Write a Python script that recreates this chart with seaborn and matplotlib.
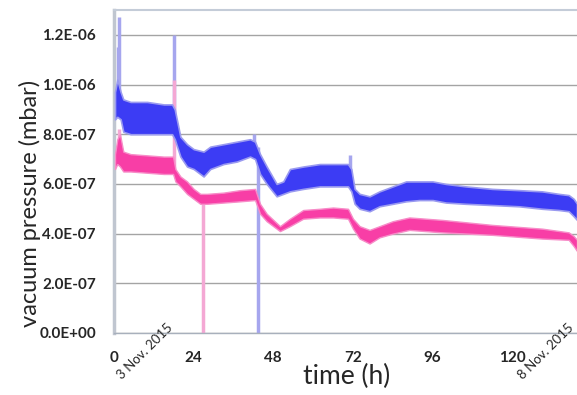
import numpy as np
import pandas as pd
import seaborn as sns
import matplotlib.pyplot as plt
from matplotlib.ticker import FuncFormatter, MultipleLocator

# band envelopes (pressure in 1e-6 mbar, time in h)
blue_t = [0.3, 1.0, 2.0, 2.8, 5, 10, 15, 17.5, 18.3, 20, 22, 24, 27, 29, 33, 37, 41, 42.5,
          44, 46, 49, 51, 53, 57, 62, 66, 70.5, 71.5, 72.5, 74, 77, 80, 84, 88, 92, 96,
          100, 106, 114, 122, 129, 134, 137, 138.5, 139.5]
blue_lo = [0.86, 0.87, 0.86, 0.81, 0.80, 0.80, 0.80, 0.80, 0.78, 0.71, 0.67, 0.66, 0.63, 0.66,
           0.68, 0.69, 0.71, 0.70, 0.64, 0.60, 0.55, 0.56, 0.57, 0.58, 0.59, 0.59, 0.59, 0.57,
           0.52, 0.50, 0.49, 0.51, 0.52, 0.53, 0.535, 0.535, 0.525, 0.52, 0.515, 0.51, 0.50,
           0.495, 0.49, 0.47, 0.455]
blue_hi = [0.97, 1.02, 0.97, 0.94, 0.93, 0.93, 0.92, 0.92, 0.90, 0.79, 0.76, 0.74, 0.73, 0.75,
           0.76, 0.77, 0.78, 0.77, 0.72, 0.67, 0.60, 0.61, 0.66, 0.67, 0.68, 0.68, 0.68, 0.66,
           0.58, 0.56, 0.55, 0.57, 0.59, 0.61, 0.61, 0.61, 0.60, 0.59, 0.58, 0.575, 0.57,
           0.56, 0.555, 0.54, 0.52]

pink_t = [0.3, 1.0, 1.8, 2.8, 5, 10, 15, 17.8, 18.5, 20, 22, 24, 26, 28, 33, 38, 42.5, 44, 46,
          50, 53, 57, 62, 66, 70.5, 72, 74, 77, 80, 84, 89, 99, 114, 129, 137, 138.5, 139.5]
pink_lo = [0.66, 0.68, 0.67, 0.65, 0.65, 0.645, 0.64, 0.64, 0.61, 0.59, 0.56, 0.54, 0.52, 0.52,
           0.525, 0.53, 0.535, 0.48, 0.45, 0.41, 0.43, 0.46, 0.465, 0.465, 0.46, 0.42, 0.38,
           0.36, 0.385, 0.40, 0.415, 0.405, 0.395, 0.38, 0.375, 0.35, 0.33]
pink_hi = [0.72, 0.78, 0.80, 0.73, 0.72, 0.715, 0.71, 0.71, 0.66, 0.63, 0.61, 0.58, 0.56, 0.56,
           0.565, 0.575, 0.58, 0.52, 0.48, 0.43, 0.46, 0.495, 0.50, 0.505, 0.50, 0.46, 0.43,
           0.415, 0.43, 0.45, 0.465, 0.455, 0.435, 0.42, 0.405, 0.39, 0.375]

# spikes: time, low, high
blue_spike_t = [1.2, 1.4, 18.0, 42.3, 43.5, 71.2]
blue_spike_lo = [0.95, 0.90, 0.80, 0.72, 0.0, 0.62]
blue_spike_hi = [1.15, 1.27, 1.20, 0.80, 0.75, 0.715]
pink_spike_t = [1.5, 18.2, 26.8]
pink_spike_lo = [0.72, 0.66, 0.0]
pink_spike_hi = [0.82, 1.02, 0.55]

date_t = [17.0, 138.0]
date_labels = ['3 Nov. 2015', '8 Nov. 2015']

BLUE = '#3c3cf4'
PINK = '#f83ea6'

def to_long(t, lo, hi):
    return pd.DataFrame({'time': list(t) * 2,
                         'p': np.concatenate([lo, hi]) * 1e-6})

sns.set_style('white')
plt.rcParams['font.family'] = ['Lato', 'DejaVu Sans']

fig = plt.figure(figsize=(5.77, 3.95), dpi=100)
ax = fig.add_axes([114 / 577, 62 / 395, 463 / 577, 323 / 395])

ax.vlines(blue_spike_t, np.array(blue_spike_lo) * 1e-6, np.array(blue_spike_hi) * 1e-6,
          color='#a6a6ee', lw=2.5, zorder=2)
ax.vlines(pink_spike_t, np.array(pink_spike_lo) * 1e-6, np.array(pink_spike_hi) * 1e-6,
          color='#f4a8d4', lw=2.5, zorder=2)

sns.lineplot(data=to_long(blue_t, blue_lo, blue_hi), x='time', y='p', errorbar=('pi', 100),
             color=BLUE, lw=0, ax=ax,
             err_kws=dict(alpha=1, facecolor=BLUE, edgecolor='#9a9af0', linewidth=1.2, zorder=3))
sns.lineplot(data=to_long(pink_t, pink_lo, pink_hi), x='time', y='p', errorbar=('pi', 100),
             color=PINK, lw=0, ax=ax,
             err_kws=dict(alpha=1, facecolor=PINK, edgecolor='#f78cc8', linewidth=1.0, zorder=3))

ax.set_xlim(0, 139.5)
ax.set_ylim(0, 1.3e-6)
ax.xaxis.set_major_locator(MultipleLocator(24))
ax.xaxis.set_minor_locator(MultipleLocator(12))
ax.yaxis.set_major_locator(MultipleLocator(2e-7))
ax.yaxis.set_minor_locator(MultipleLocator(1e-7))
ax.yaxis.set_major_formatter(FuncFormatter(lambda v, pos: f'{v:.1E}'))
ax.xaxis.set_major_formatter(FuncFormatter(lambda v, pos: f'{v:.0f}'))
ax.grid(axis='y', which='major', color='#a4a4a4', lw=1, zorder=0)
ax.set_axisbelow(True)
ax.tick_params(which='both', direction='in', color='#b0b4bc', length=5, width=1)
ax.tick_params(axis='both', which='major', labelsize=11, pad=13)
for lab in ax.get_xticklabels() + ax.get_yticklabels():
    lab.set_fontweight('bold')

for side, col, lw in [('left', '#c0c6d0', 2.5), ('top', '#c4ccd8', 1.5), ('bottom', '#a8b0bc', 1.0)]:
    ax.spines[side].set_color(col)
    ax.spines[side].set_linewidth(lw)
ax.spines['right'].set_visible(False)

ax.set_xlabel('time (h)', fontsize=19)
ax.xaxis.set_label_coords(0.503, -0.095)
ax.set_ylabel('vacuum pressure (mbar)', fontsize=17)
ax.yaxis.set_label_coords(-0.158, 0.40)

for t_end, label in zip(date_t, date_labels):
    ax.text(t_end, 0.3e-7, label, rotation=45, rotation_mode='anchor',
            ha='right', va='center', fontsize=9.5)

plt.savefig('out.png', dpi=100)
